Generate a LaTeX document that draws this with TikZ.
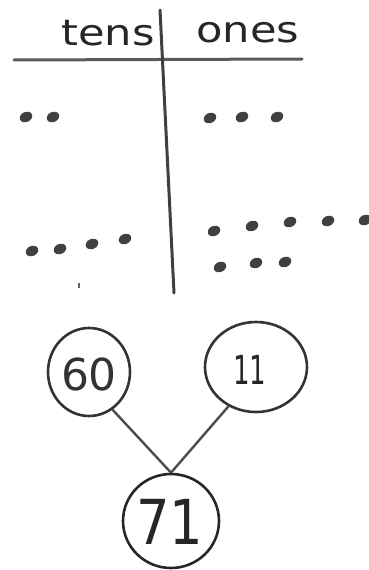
\documentclass[tikz,border=0pt]{standalone}
\usepackage{fontspec}
\setmainfont{DejaVu Sans}
\usetikzlibrary{shapes.geometric}
\begin{document}
\begin{tikzpicture}[x=1pt,y=-1pt,
  rule/.style={draw=black!65,line width=3pt,line cap=round},
  bead/.style={fill=black!75,draw=none},
  ring/.style={draw=black!80,line width=2.6pt,ellipse,inner sep=0pt},
  link/.style={draw=black!70,line width=2.4pt},
  head/.style={font=\fontsize{36}{36}\selectfont,text=black!85,inner sep=0pt,xscale=1.2}]
\useasboundingbox (0,0) rectangle (368,570);
% table
\coordinate (hl) at (14,60);
\coordinate (hr) at (302,59);
\coordinate (vt) at (160,10);
\coordinate (vb) at (174,293);
\draw[rule] (hl) -- (hr);
\draw[rule,draw=black!75] (vt) -- (vb);
\node[head] (tens) at (108,33) {tens};
\node[head] (ones) at (248,33) {ones};
% dots
\foreach \px/\py in {26/117,53/117,210/118,242/117,277/117,
  32/251,60/249,92/244,125/239,
  214/231,252/226,290/222,328/221,365/220,
  220/267,256/263,285/262}
  \fill[bead,rotate around={25:(\px,\py)}] (\px,\py) ellipse (6.5 and 5);
\draw[black!60,line width=1.5pt] (79,283) -- (79,288);
% bubbles
\node[ring,minimum width=82pt,minimum height=88pt] (a) at (89,372) {};
\node[font=\fontsize{44}{44}\selectfont,text=black!80] (ta) at (89,374) {60};
\node[ring,minimum width=102pt,minimum height=90pt] (b) at (256,367) {};
\node[font=\fontsize{40}{40}\selectfont,text=black!85,xscale=0.65] (tb) at (250,370) {11};
\node[ring,draw=black!85,minimum width=96pt,minimum height=94pt] (c) at (171,521) {};
\node[font=\fontsize{62}{62}\selectfont,text=black!85,xscale=0.85] (tc) at (170,522) {71};
\draw[link] (a.-58) -- (c.north);
\draw[link] (b.-125) -- (c.north);
\end{tikzpicture}
\end{document}
